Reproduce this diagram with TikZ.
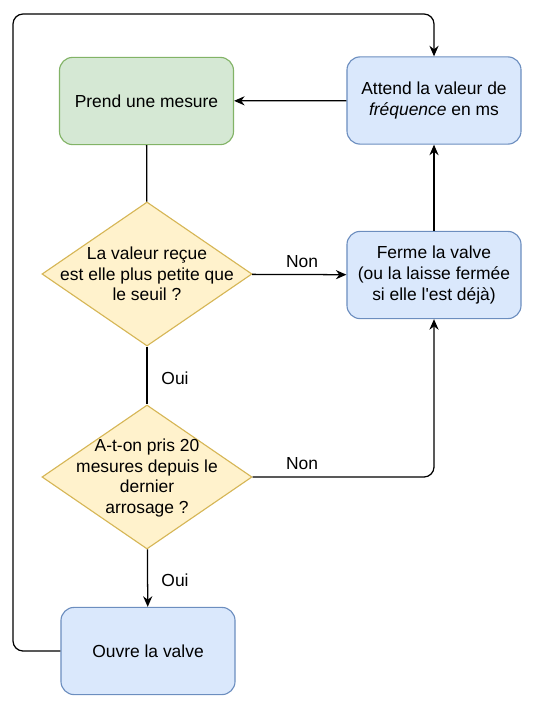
\documentclass[tikz,border=0pt]{standalone}
\usepackage{fontspec}
\setmainfont{Liberation Sans}[Ligatures=TeXOff]
\usepackage{tikz}
\usetikzlibrary{shapes.geometric}
\usetikzlibrary{arrows.meta}

\definecolor{vertfond}{HTML}{D5E8D4}
\definecolor{vertbord}{HTML}{82B366}
\definecolor{bleufond}{HTML}{DAE8FC}
\definecolor{bleubord}{HTML}{6C8EBF}
\definecolor{jaunefond}{HTML}{FFF2CC}
\definecolor{jaunebord}{HTML}{D6B656}

\tikzset{
  etape/.style={draw=bleubord, fill=bleufond, rounded corners=0.33cm, line width=0.8pt,
    minimum width=4.35cm, minimum height=2.18cm, align=center},
  test/.style={diamond, draw=jaunebord, fill=jaunefond, line width=0.8pt, inner sep=0pt,
    minimum width=5.25cm, minimum height=3.6cm, aspect=1.46},
  fleche/.style={-{Stealth[length=7.5pt,width=6.5pt]}, line width=0.9pt},
  trait/.style={line width=0.9pt},
}

\begin{document}
\begin{tikzpicture}[x=0.025cm, y=-0.025cm, font=\fontsize{12.4}{14.6}\selectfont]
    \useasboundingbox (0,0) rectangle (535,710);

    % 绘制方框
    \node[etape, draw=vertbord, fill=vertfond] (prend) at (146.5,101) {Prend une mesure};
    \node[etape] (attend) at (434,100.5) {Attend la valeur de\\\textit{fréquence} en ms};
    \node[etape] (ferme) at (434,275) {Ferme la valve\\(ou la laisse fermée\\si elle l'est déjà)};
    \node[etape] (ouvre) at (148,651) {Ouvre la valve};

    % 判断
    \node[test] (seuil) at (147,274) {};
    \node[align=center] (seuiltxt) at (seuil) {La valeur reçue\\est elle plus petite que\\le seuil ?};
    \node[test] (vingt) at (147,477) {};
    \node[align=center] (vingttxt) at (147,478) {A-t-on pris 20\\mesures depuis le\\dernier\\arrosage ?};

    % 连线
    \draw[fleche] (attend) -- (prend);
    \draw[trait] (prend) -- (seuil);
    \draw[trait] (seuil) -- (vingt);
    \node (oui1) at (175,378) {Oui};
    \draw[fleche] (vingt) -- (ouvre);
    \node (oui2) at (175,580) {Oui};
    \draw[fleche] (seuil) -- (ferme);
    \node (non1) at (302,262) {Non};
    \draw[fleche, rounded corners=0.25cm] (vingt.east) -| (ferme.south);
    \node (non2) at (302,464) {Non};
    \draw[fleche] (ferme) -- (attend);
    \coordinate (coin) at (13,14);
    \draw[fleche, rounded corners=0.25cm] (ouvre.west) -| (coin) -| (attend.north);
\end{tikzpicture}
\end{document}
